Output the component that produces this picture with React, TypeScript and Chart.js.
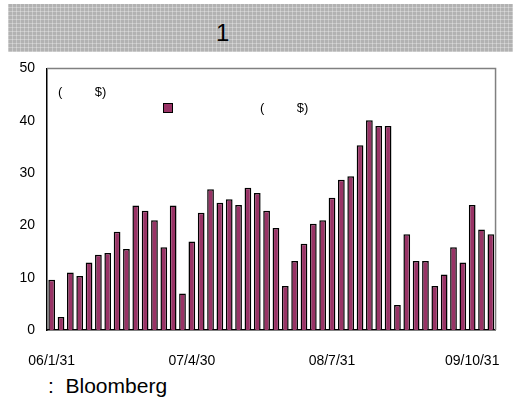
import React, { useEffect, useRef } from "react";
import { Chart, registerables } from "chart.js";

Chart.register(...registerables);

const categories: string[] = [
  "06/1/31", "06/2/28", "06/3/31", "06/4/30", "06/5/31", "06/6/30", "06/7/31", "06/8/31", "06/9/30", "06/10/31", "06/11/30", "06/12/31",
  "07/1/31", "07/2/28", "07/3/31", "07/4/30", "07/5/31", "07/6/30", "07/7/31", "07/8/31", "07/9/30", "07/10/31", "07/11/30", "07/12/31",
  "08/1/31", "08/2/29", "08/3/31", "08/4/30", "08/5/31", "08/6/30", "08/7/31", "08/8/31", "08/9/30", "08/10/31", "08/11/30", "08/12/31",
  "09/1/31", "09/2/28", "09/3/31", "09/4/30", "09/5/31", "09/6/30", "09/7/31", "09/8/31", "09/9/30", "09/10/31", "09/11/30", "09/12/31",
];

const values: number[] = [
  9.6, 2.5, 11.0, 10.3, 12.9, 14.4, 14.7, 18.8, 15.5, 23.8, 22.8, 21.0,
  15.8, 23.8, 7.0, 16.9, 22.4, 26.9, 24.3, 25.0, 23.9, 27.2, 26.2, 22.8,
  19.5, 8.4, 13.2, 16.5, 20.3, 21.0, 25.3, 28.7, 29.4, 35.3, 40.1, 39.0,
  39.0, 4.8, 18.3, 13.2, 13.2, 8.4, 10.6, 15.8, 12.9, 23.9, 19.2, 18.3,
];

const yTicks: number[] = [0, 10, 20, 30, 40, 50];
const shownLabelEvery = 15;

const titleText = "1";
const unitText = "(         $)";
const legendText = "(         $)";
const sourceText = ":  Bloomberg";

const BAR_COLOR = "#993366";
const FONT = "'Liberation Sans', Arial, sans-serif";

const frameBorder = {
  id: "frameBorder",
  afterDraw(chart: any) {
    const { ctx, chartArea } = chart;
    ctx.save();
    ctx.strokeStyle = "#808080";
    ctx.lineWidth = 1.5;
    ctx.beginPath();
    ctx.moveTo(chartArea.left, chartArea.top);
    ctx.lineTo(chartArea.right, chartArea.top);
    ctx.lineTo(chartArea.right, chartArea.bottom);
    ctx.stroke();
    ctx.restore();
  },
};

export default function App() {
  const canvasRef = useRef<HTMLCanvasElement | null>(null);

  useEffect(() => {
    if (!canvasRef.current) return;
    const chart = new Chart(canvasRef.current, {
      type: "bar",
      data: {
        labels: categories,
        datasets: [
          {
            data: values,
            backgroundColor: BAR_COLOR,
            borderColor: "#000000",
            borderWidth: 1.5,
            barPercentage: 0.72,
            categoryPercentage: 1,
          },
        ],
      },
      options: {
        animation: false,
        responsive: true,
        maintainAspectRatio: false,
        layout: { padding: { top: 7, right: 12, left: 0, bottom: 0 } },
        plugins: {
          legend: { display: false },
          tooltip: { enabled: false },
          title: { display: false },
        },
        scales: {
          x: {
            grid: { display: false, drawTicks: false },
            border: { display: true, color: "#000000", width: 1.5 },
            afterFit: (scale: any) => {
              scale.height = 40;
            },
            ticks: {
              autoSkip: false,
              maxRotation: 0,
              minRotation: 0,
              padding: 23,
              color: "#000000",
              font: { family: FONT, size: 14 },
              callback: (_v: any, i: number) => (i % shownLabelEvery === 0 ? categories[i] : ""),
            },
          },
          y: {
            min: yTicks[0],
            max: yTicks[yTicks.length - 1],
            grid: { display: false, drawTicks: false },
            border: { display: true, color: "#000000", width: 1.5 },
            afterFit: (scale: any) => {
              scale.width = 47;
            },
            afterBuildTicks: (scale: any) => {
              scale.ticks = yTicks.map((v) => ({ value: v }));
            },
            ticks: {
              padding: 12,
              color: "#000000",
              font: { family: FONT, size: 14 },
            },
          },
        },
      },
      plugins: [frameBorder],
    });
    return () => chart.destroy();
  }, []);

  const titlePattern =
    "repeating-linear-gradient(0deg, rgba(255,255,255,0.3) 0px, rgba(255,255,255,0.3) 1px, transparent 1px, transparent 4px), " +
    "repeating-linear-gradient(90deg, rgba(255,255,255,0.3) 0px, rgba(255,255,255,0.3) 1px, transparent 1px, transparent 4px), #b2b2b2";

  return (
    <div
      style={{
        position: "absolute",
        left: 0,
        top: 0,
        width: 514,
        height: 403,
        background: "#ffffff",
        fontFamily: FONT,
        color: "#000",
        overflow: "hidden",
      }}
    >
      <div
        style={{
          position: "absolute",
          left: 8,
          top: 4,
          width: 505,
          height: 48,
          background: titlePattern,
        }}
      >
        <span
          style={{
            position: "absolute",
            left: 208,
            top: 17,
            fontSize: 24,
            lineHeight: "24px",
          }}
        >
          {titleText}
        </span>
      </div>
      <div style={{ position: "absolute", left: 0, top: 48, width: 514, height: 322 }}>
        <canvas ref={canvasRef} />
      </div>
      <span
        style={{
          position: "absolute",
          left: 58,
          top: 84,
          fontSize: 13,
          lineHeight: "16px",
          whiteSpace: "pre",
        }}
      >
        {unitText}
      </span>
      <div
        style={{
          position: "absolute",
          left: 163,
          top: 103,
          width: 8,
          height: 8,
          background: BAR_COLOR,
          border: "1px solid #000",
        }}
      />
      <span
        style={{
          position: "absolute",
          left: 260,
          top: 100,
          fontSize: 13,
          lineHeight: "16px",
          whiteSpace: "pre",
        }}
      >
        {legendText}
      </span>
      <span
        style={{
          position: "absolute",
          left: 48,
          top: 375,
          fontSize: 21,
          lineHeight: "22px",
          whiteSpace: "pre",
        }}
      >
        {sourceText}
      </span>
    </div>
  );
}
